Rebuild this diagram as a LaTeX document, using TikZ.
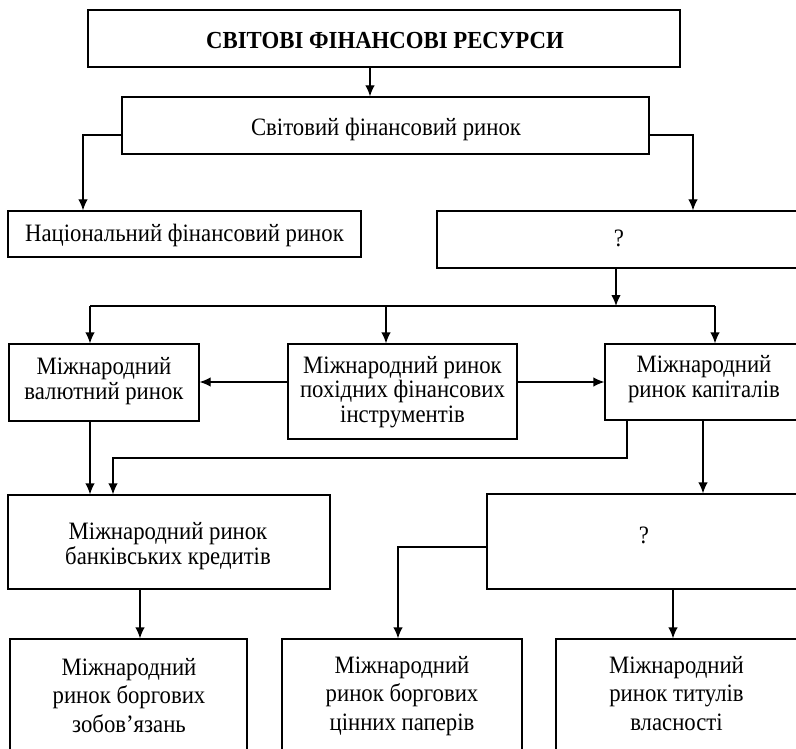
\documentclass[tikz,border=0pt]{standalone}
\usepackage{fontspec}
\setmainfont{Liberation Serif}[FakeStretch=0.91]
\newfontfamily\titlefont{Liberation Serif}[FakeStretch=0.93]
\usetikzlibrary{arrows.meta}
\begin{document}
\begin{tikzpicture}[x=1pt,y=-1pt,
  box/.style={draw, line width=1.3pt, inner sep=0pt},
  lbl/.style={align=center, inner sep=0pt, anchor=base, font=\fontsize{25}{24.5}\selectfont},
  lblb/.style={lbl, font=\fontsize{25}{28.5}\selectfont},
  ttl/.style={inner sep=0pt, anchor=base, font=\titlefont\bfseries\fontsize{24.5}{28}\selectfont},
  arr/.style={-{Latex[length=11pt,width=9.5pt]}, line width=1.3pt},
  ln/.style={line width=1.3pt}]
\useasboundingbox (0,0) rectangle (796,749);
% boxes
\node[box, minimum width=592pt, minimum height=57pt] (top) at (384,38.5) {};
\node[box, minimum width=527pt, minimum height=57pt] (b2) at (385.5,125.5) {};
\node[box, minimum width=353pt, minimum height=46pt] (nat) at (184.5,234) {};
\node[box, minimum width=363pt, minimum height=57pt] (q1) at (618.5,239.5) {};
\node[box, minimum width=190pt, minimum height=77pt] (L3) at (104,382.5) {};
\node[box, minimum width=229pt, minimum height=95pt] (M3) at (402.5,391.5) {};
\node[box, minimum width=195pt, minimum height=76pt] (R3) at (702.5,382) {};
\node[box, minimum width=322pt, minimum height=94pt] (bank) at (169,542) {};
\node[box, minimum width=313pt, minimum height=95pt] (q2) at (643.5,541.5) {};
\node[box, minimum width=237pt, minimum height=121pt] (BL) at (128.5,699.5) {};
\node[box, minimum width=240pt, minimum height=121pt] (BM) at (402,699.5) {};
\node[box, minimum width=244pt, minimum height=121pt] (BR) at (678,699.5) {};
% texts (anchored at the baseline of the last line)
\node[ttl] (ttop) at (385,49) {СВІТОВІ ФІНАНСОВІ РЕСУРСИ};
\node[lbl] (tb2) at (386,136) {Світовий фінансовий ринок};
\node[lbl] (tnat) at (184.5,242) {Національний фінансовий ринок};
\node[lbl] (tq1) at (619,247) {?};
\node[lbl] (tL3) at (104,399) {Міжнародний\\валютний ринок};
\node[lbl] (tM3) at (402.5,422) {Міжнародний ринок\\похідних фінансових\\інструментів};
\node[lbl] (tR3) at (704,397) {Міжнародний\\ринок капіталів};
\node[lbl] (tbank) at (168,564) {Міжнародний ринок\\банківських кредитів};
\node[lbl] (tq2) at (644,543) {?};
\node[lblb] (tBL) at (129,732) {Міжнародний\\ринок боргових\\зобов’язань};
\node[lblb] (tBM) at (402,730) {Міжнародний\\ринок боргових\\цінних паперів};
\node[lblb] (tBR) at (676.5,730) {Міжнародний\\ринок титулів\\власності};
% helper coordinates
\coordinate (xa) at (370,0);
\coordinate (yb) at (0,135);
\coordinate (xNat) at (83,0);
\coordinate (xQ1) at (693,0);
\coordinate (busL) at (90,306);
\coordinate (busC) at (386,306);
\coordinate (busM) at (616,306);
\coordinate (busR) at (715,306);
\coordinate (yM) at (0,382);
\coordinate (k1) at (627,458);
\coordinate (k2) at (113,458);
\coordinate (xR) at (703,0);
\coordinate (xB) at (140,0);
\coordinate (yQ) at (0,547);
\coordinate (xBM) at (398,0);
\coordinate (xBR) at (673,0);
% connectors
\draw[arr] (top.south -| xa) -- (b2.north -| xa);
\draw[arr] (b2.west |- yb) -| (nat.north -| xNat);
\draw[arr] (b2.east |- yb) -| (q1.north -| xQ1);
\draw[arr] (q1.south -| busM) -- (busM);
\draw[ln] (busL) -- (busR);
\draw[arr] (busL) -- (L3.north -| busL);
\draw[arr] (busC) -- (M3.north -| busC);
\draw[arr] (busR) -- (R3.north -| busR);
\draw[arr] (M3.west |- yM) -- (L3.east |- yM);
\draw[arr] (M3.east |- yM) -- (R3.west |- yM);
\draw[arr] (L3.south -| busL) -- (bank.north -| busL);
\draw[arr] (R3.south -| k1) -- (k1) -- (k2) -- (bank.north -| k2);
\draw[arr] (R3.south -| xR) -- (q2.north -| xR);
\draw[arr] (bank.south -| xB) -- (BL.north -| xB);
\draw[arr] (q2.west |- yQ) -| (BM.north -| xBM);
\draw[arr] (q2.south -| xBR) -- (BR.north -| xBR);
\end{tikzpicture}
\end{document}
